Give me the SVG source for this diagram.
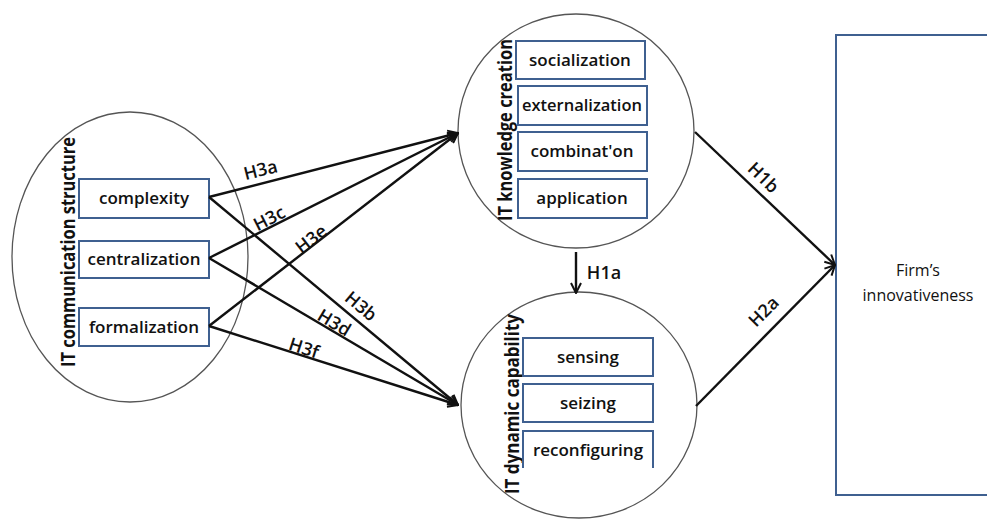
<svg xmlns="http://www.w3.org/2000/svg" width="987" height="521" viewBox="0 0 987 521">
<defs>
<style>
.ell{fill:none;stroke:#555;stroke-width:1.3}
.box{fill:#fff;stroke:#3f6090;stroke-width:2}
.bt{font-family:"Open Sans","Liberation Sans",sans-serif;font-size:17px;font-weight:600;fill:#111;text-anchor:middle}
.lab{font-family:"Open Sans","Liberation Sans",sans-serif;font-size:20px;font-weight:700;fill:#111;text-anchor:middle}
.hl{font-family:"Open Sans","Liberation Sans",sans-serif;font-size:18px;font-weight:600;fill:#111;text-anchor:middle}
.fl{font-family:"Open Sans","Liberation Sans",sans-serif;font-size:16px;fill:#111;text-anchor:middle}
.c{fill:none;stroke:#111;stroke-width:2.4;marker-end:url(#ah)}
</style>
<marker id="ah" viewBox="0 0 12 12" refX="11" refY="6" markerWidth="12" markerHeight="12" markerUnits="userSpaceOnUse" orient="auto">
<path d="M1,1 L11,6 L1,11" fill="none" stroke="#111" stroke-width="2"/>
</marker>
</defs>
<rect width="987" height="521" fill="#fff"/>

<g id="comm">
<ellipse class="ell" cx="130" cy="257" rx="118" ry="145"/>
<text class="lab" transform="translate(75,252) rotate(-90)" textLength="230" lengthAdjust="spacingAndGlyphs">IT communication structure</text>
</g>
<g id="complexity"><rect class="box" x="79" y="179" width="130" height="39"/><text class="bt" x="144" y="204">complexity</text></g>
<g id="centralization"><rect class="box" x="79" y="241" width="130" height="37"/><text class="bt" x="144" y="265">centralization</text></g>
<g id="formalization"><rect class="box" x="79" y="308" width="130" height="38"/><text class="bt" x="144" y="333">formalization</text></g>

<g id="knowledge">
<ellipse class="ell" cx="576" cy="131" rx="118" ry="117"/>
<text class="lab" transform="translate(512,130) rotate(-90)" textLength="182" lengthAdjust="spacingAndGlyphs">IT knowledge creation</text>
</g>
<g id="socialization"><rect class="box" x="516" y="41" width="129" height="38"/><text class="bt" x="580" y="66">socialization</text></g>
<g id="externalization"><rect class="box" x="518" y="86" width="129" height="39"/><text class="bt" x="582" y="111" textLength="120" lengthAdjust="spacingAndGlyphs">externalization</text></g>
<g id="combination"><rect class="box" x="518" y="132" width="129" height="39"/><text class="bt" x="582" y="157">combinat'on</text></g>
<g id="application"><rect class="box" x="518" y="179" width="129" height="39"/><text class="bt" x="582" y="204">application</text></g>

<g id="dynamic">
<ellipse class="ell" cx="579" cy="405" rx="118" ry="113"/>
<text class="lab" transform="translate(519,404) rotate(-90)" textLength="180" lengthAdjust="spacingAndGlyphs">IT dynamic capability</text>
</g>
<g id="sensing"><rect class="box" x="523" y="338" width="130" height="38"/><text class="bt" x="588" y="363">sensing</text></g>
<g id="seizing"><rect class="box" x="523" y="384" width="130" height="38"/><text class="bt" x="588" y="409">seizing</text></g>
<g id="reconfiguring"><path d="M523,468 V431 H653 V468" fill="#fff" stroke="#3f6090" stroke-width="2"/><text class="bt" x="588" y="456">reconfiguring</text></g>

<g id="firm">
<rect x="836" y="35" width="160" height="460" fill="#fff" stroke="#3f6090" stroke-width="2"/>
<text class="fl" x="918" y="276">Firm’s</text>
<text class="fl" x="918" y="301">innovativeness</text>
</g>

<g id="connectors">
<path class="c" d="M209,197 L458,133"/>
<path class="c" d="M209,258 L458,133"/>
<path class="c" d="M209,326 L458,133"/>
<path class="c" d="M209,197 L458,405"/>
<path class="c" d="M209,258 L458,405"/>
<path class="c" d="M209,326 L458,405"/>
<path class="c" d="M576,252 L576,293"/>
<path class="c" d="M695,132 L835,265"/>
<path class="c" d="M696,406 L835,265"/>
<text class="hl" transform="translate(262,176) rotate(-14)">H3a</text>
<text class="hl" transform="translate(272,224) rotate(-27)">H3c</text>
<text class="hl" transform="translate(315,244) rotate(-38)">H3e</text>
<text class="hl" transform="translate(357,311) rotate(40)">H3b</text>
<text class="hl" transform="translate(331,328) rotate(31)">H3d</text>
<text class="hl" transform="translate(302,354) rotate(18)">H3f</text>
<text class="hl" x="604" y="279">H1a</text>
<text class="hl" transform="translate(759,182) rotate(44)">H1b</text>
<text class="hl" transform="translate(768,316) rotate(-45)">H2a</text>
</g>
</svg>
